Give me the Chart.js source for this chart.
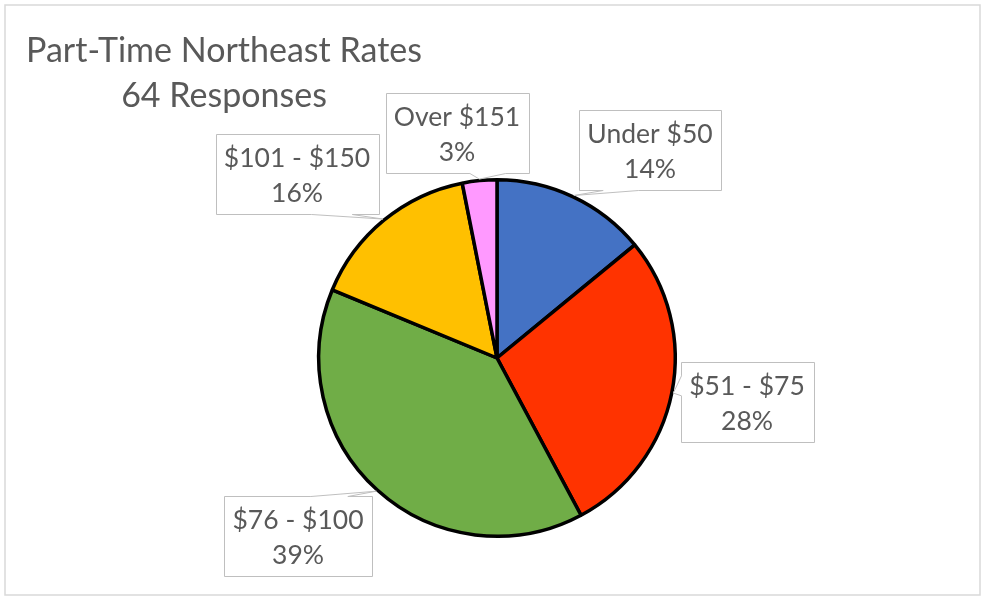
<!DOCTYPE html>
<html>
<head>
<meta charset="utf-8">
<script src="https://cdn.jsdelivr.net/npm/chart.js@4.4.1/dist/chart.umd.min.js"></script>
<style>
  html, body { margin: 0; padding: 0; background: #fff; }
  #wrap { width: 981px; height: 596px; }
</style>
</head>
<body>
<div id="wrap"><canvas id="pieChart" width="981" height="596"></canvas></div>
<script>
// data (64 responses in total)
const categories = ['Under $50', '$51 - $75', '$76 - $100', '$101 - $150', 'Over $151'];
const responses = [9, 18, 25, 10, 2];
const titleText = 'Part-Time Northeast Rates';

// styles and layout
const sliceColors = ['#4472C4', '#FF3300', '#70AD47', '#FFC000', '#FF99FF'];
const textColor = '#595959';
const titleFont = '34px Lato';
const labelFont = '26.5px Lato';
// callout box centres, relative to the pie centre
const labelOffsets = [[153, -208], [250, 44], [-199, 178], [-200, -184], [-40, -225]];
const boxPadX = 8.5;
const boxHeight = 80;

const total = responses.reduce((a, b) => a + b, 0);

// callout box with a wedge pointing at (tx, ty), like Excel's wedgeRectCallout
function drawWedgeBox(ctx, l, t, w, h, tx, ty) {
    const r = l + w, b = t + h;
    const dx = tx - (l + w / 2), dy = ty - (t + h / 2);
    const xa = dx > 0 ? l + w * 7 / 12 : l + w * 2 / 12;
    const xb = dx > 0 ? l + w * 10 / 12 : l + w * 5 / 12;
    const ya = dy > 0 ? t + h * 7 / 12 : t + h * 2 / 12;
    const yb = dy > 0 ? t + h * 10 / 12 : t + h * 5 / 12;
    const vertical = Math.abs(dy) * w >= Math.abs(dx) * h;
    ctx.beginPath();
    ctx.moveTo(l, t);
    if (vertical && dy < 0) { ctx.lineTo(xa, t); ctx.lineTo(tx, ty); ctx.lineTo(xb, t); }
    ctx.lineTo(r, t);
    if (!vertical && dx > 0) { ctx.lineTo(r, ya); ctx.lineTo(tx, ty); ctx.lineTo(r, yb); }
    ctx.lineTo(r, b);
    if (vertical && dy > 0) { ctx.lineTo(xb, b); ctx.lineTo(tx, ty); ctx.lineTo(xa, b); }
    ctx.lineTo(l, b);
    if (!vertical && dx < 0) { ctx.lineTo(l, yb); ctx.lineTo(tx, ty); ctx.lineTo(l, ya); }
    ctx.closePath();
    ctx.fillStyle = '#ffffff';
    ctx.fill();
    ctx.strokeStyle = '#bfbfbf';
    ctx.lineWidth = 1;
    ctx.stroke();
}

const decorPlugin = {
    id: 'decor',
    afterDraw(chart) {
        const ctx = chart.ctx;
        ctx.save();

        // outer frame
        ctx.strokeStyle = '#d9d9d9';
        ctx.lineWidth = 1.5;
        ctx.strokeRect(5, 5, 975, 590);

        // title, two centred lines
        ctx.fillStyle = textColor;
        ctx.font = titleFont;
        ctx.textAlign = 'center';
        ctx.textBaseline = 'alphabetic';
        ctx.fillText(titleText, 224, 62);
        ctx.fillText(total + ' Responses', 224, 107);

        // data callouts
        ctx.font = labelFont;
        const arcs = chart.getDatasetMeta(0).data;
        arcs.forEach((arc, i) => {
            const p = arc.getProps(['x', 'y', 'startAngle', 'endAngle', 'outerRadius'], true);
            const mid = (p.startAngle + p.endAngle) / 2;
            const rr = p.outerRadius + 1.5;
            const tipX = p.x + Math.cos(mid) * rr;
            const tipY = p.y + Math.sin(mid) * rr;
            const pct = Math.round(responses[i] / total * 100) + '%';
            const w = Math.round(Math.max(ctx.measureText(categories[i]).width, ctx.measureText(pct).width) + 2 * boxPadX);
            const cx = p.x + labelOffsets[i][0];
            const cy = p.y + labelOffsets[i][1];
            const l = Math.round(cx - w / 2) + 0.5;
            const t = Math.round(cy - boxHeight / 2) + 0.5;
            drawWedgeBox(ctx, l, t, w, boxHeight, tipX, tipY);
            ctx.fillStyle = textColor;
            ctx.textAlign = 'center';
            ctx.fillText(categories[i], cx, cy - 7);
            ctx.fillText(pct, cx, cy + 28);
        });
        ctx.restore();
    }
};

function buildChart() {
    const ctx = document.getElementById('pieChart').getContext('2d');
    new Chart(ctx, {
        type: 'pie',
        data: {
            labels: categories,
            datasets: [{
                data: responses,
                backgroundColor: sliceColors,
                borderColor: '#000000',
                borderWidth: 3.5,
                hoverBorderWidth: 3.5,
                hoverOffset: 0
            }]
        },
        options: {
            responsive: false,
            animation: false,
            layout: { padding: { left: 317, right: 304, top: 178, bottom: 58 } },
            plugins: {
                legend: { display: false },
                tooltip: { enabled: false },
                title: { display: false }
            }
        },
        plugins: [decorPlugin]
    });
}

Promise.all([document.fonts.load(titleFont), document.fonts.load(labelFont)])
    .catch(() => {})
    .then(buildChart);
</script>
</body>
</html>
